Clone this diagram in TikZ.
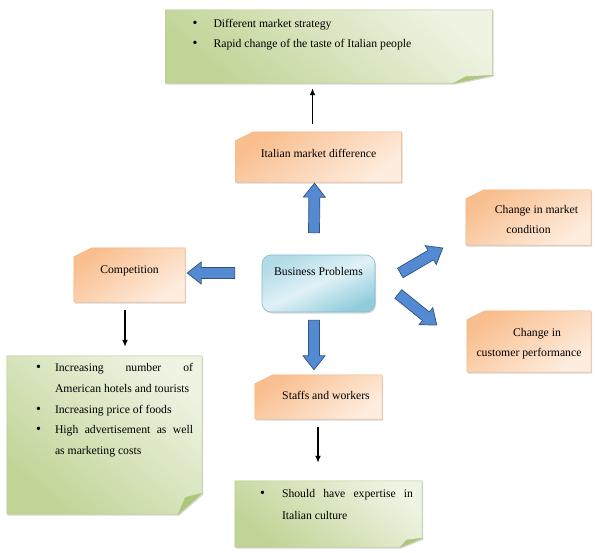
\documentclass[tikz,border=0pt]{standalone}
\usepackage{fontspec}
\setmainfont{Liberation Serif}
\usepackage{enumitem}
\setlist[itemize]{topsep=0pt, partopsep=0pt, itemsep=0pt, parsep=0pt, label={\fontsize{14}{14}\selectfont\textbullet}}
\usetikzlibrary{positioning,arrows.meta,calc,backgrounds,shadows}

\definecolor{orangedark}{RGB}{249,190,142}
\definecolor{orangelight}{RGB}{254,237,223}
\definecolor{orangeedge}{RGB}{240,178,128}
\definecolor{greendark}{RGB}{192,212,150}
\definecolor{greenlight}{RGB}{238,243,226}
\definecolor{greenedge}{RGB}{178,202,132}
\definecolor{greenfold}{RGB}{172,198,122}
\definecolor{bluedark}{RGB}{145,204,220}
\definecolor{bluelight}{RGB}{224,241,246}
\definecolor{blueedge}{RGB}{128,190,208}
\definecolor{arrowfill}{RGB}{84,138,210}
\definecolor{arrowedge}{RGB}{50,82,126}

\tikzset{
    on grid,
    every node/.style={font=\fontsize{11.7}{20}\selectfont},
    cutbox/.style = {
        shape=rectangle,
        inner sep=0pt,
        align=center
    },
    notebox/.style = {
        shape=rectangle,
        inner sep=0pt
    },
    probbox/.style = {
        draw=blueedge,
        shape=rectangle,
        rounded corners=9pt,
        line width=0.6pt,
        top color=bluedark!60!bluelight,
        bottom color=bluedark,
        middle color=bluelight,
        shading angle=25,
        drop shadow={shadow xshift=1pt,shadow yshift=-1.5pt,opacity=0.3}
    },
    orangefill/.style = {
        draw=orangeedge,
        line width=0.5pt,
        top color=orangedark,
        bottom color=orangelight,
        shading angle=35,
        drop shadow={shadow xshift=1pt,shadow yshift=-1.5pt,opacity=0.3}
    },
    greenfill/.style = {
        draw=greenedge,
        line width=0.5pt,
        top color=greenlight,
        bottom color=greendark,
        shading angle=-40,
        drop shadow={shadow xshift=1pt,shadow yshift=-1.5pt,opacity=0.3}
    },
    foldfill/.style = {
        draw=greenedge,
        fill=greenfold,
        line width=0.5pt
    },
    blockarrow/.style = {
        draw=arrowedge,
        fill=arrowfill,
        line width=0.7pt,
        to path={
            let \p1=(\tikztostart), \p2=(\tikztotarget),
                \p3=($(\p2)!14pt!(\p1)$)
            in ($(\p1)!5.5pt!90:(\p2)$) -- ($(\p3)!5.5pt!90:(\p2)$)
            -- ($(\p3)!11pt!90:(\p2)$) -- (\p2)
            -- ($(\p3)!11pt!-90:(\p2)$) -- ($(\p3)!5.5pt!-90:(\p2)$)
            -- ($(\p1)!5.5pt!-90:(\p2)$) -- cycle
        }
    },
    >={Latex[length=7pt,width=6pt]},
}

\begin{document}
\begin{tikzpicture}[x=1pt,y=-1pt]
    \useasboundingbox (0,0) rectangle (596,553);

    \node[probbox, minimum width=113pt, minimum height=57pt, text depth=23.6pt] (bp) at (318.5,283.5) {Business Problems};

    \node[cutbox, minimum width=166pt, minimum height=50pt, text depth=6.6pt, above=126.5pt of bp] (italy) {Italian market difference};
    \node[cutbox, minimum width=111pt, minimum height=54pt, text depth=10.6pt, above left=8.5pt and 189pt of bp] (comp) {Competition};
    \node[cutbox, minimum width=127pt, minimum height=44pt, text depth=2.6pt, below=113.5pt of bp] (staff) {\hspace*{15pt}Staffs and workers};
    \node[cutbox, minimum width=125pt, minimum height=55pt, text height=32pt, above right=66pt and 210pt of bp] (mkt) {\hspace*{16pt}Change in market\\condition};
    \node[cutbox, minimum width=124pt, minimum height=61pt, text height=32pt, below right=58pt and 210.5pt of bp] (cust) {\hspace*{16pt}Change in\\customer performance};

    \node[notebox, above=110.5pt of italy, xshift=10.5pt] (topnote) {\parbox[t][73pt][t]{327pt}{\fontsize{11.7}{20}\selectfont
        \hrule height 0pt width \hsize\vskip 9.4pt
        \begin{itemize}[leftmargin=48pt, labelsep=16pt]
            \item Different market strategy
            \item Rapid change of the taste of Italian people
        \end{itemize}}};
    \node[notebox, below left=160pt and 25pt of comp] (compnote) {\parbox[t][158pt][t]{195pt}{\fontsize{11.7}{20.8}\selectfont
        \hrule height 0pt width \hsize\vskip 7.2pt
        \begin{itemize}[leftmargin=48pt, rightmargin=9pt, labelsep=14pt]
            \item Increasing number of\linebreak American hotels and tourists
            \item Increasing price of foods
            \item High advertisement as well\linebreak as marketing costs
        \end{itemize}}};
    \node[notebox, below right=117pt and 10pt of staff] (staffnote) {\parbox[t][66pt][t]{187pt}{\fontsize{11.7}{22}\selectfont
        \hrule height 0pt width \hsize\vskip 8.8pt
        \begin{itemize}[leftmargin=47pt, rightmargin=9pt, labelsep=17pt]
            \item Should have expertise in\linebreak Italian culture
        \end{itemize}}};

    % box shapes behind the texts
    \begin{scope}[on background layer]
        \foreach \bx in {italy,comp,staff,mkt,cust}
            \path[orangefill] ([yshift=-9pt]\bx.north west) -- ([xshift=18pt]\bx.north west) -- (\bx.north east)
                -- (\bx.south east) -- (\bx.south west) -- cycle;
        \foreach \nb/\fx/\fy in {topnote/39/8,compnote/24/21,staffnote/22/9} {
            \path[greenfill] (\nb.north west) -- (\nb.north east) -- ([yshift=\fy pt]\nb.south east)
                -- ([xshift=-\fx pt]\nb.south east) -- (\nb.south west) -- cycle;
            \path[foldfill] ([xshift=-\fx pt]\nb.south east) -- ([xshift=-0.7*\fx pt,yshift=0.8*\fy pt]\nb.south east)
                -- ([yshift=\fy pt]\nb.south east) -- cycle;
        }
    \end{scope}

    \draw[blockarrow] ([xshift=-4.5pt,yshift=22pt]bp.north) to ([xshift=-4pt,yshift=-1pt]italy.south);
    \draw[blockarrow] ([xshift=-27pt,yshift=10.5pt]bp.west) to ([xshift=2pt,yshift=2pt]comp.east);
    \draw[blockarrow] ([xshift=-4.5pt,yshift=-8pt]bp.south) to ([xshift=-4.5pt,yshift=5pt]staff.north);
    \draw[blockarrow] ([xshift=25pt,yshift=10.5pt]bp.east) to ([xshift=-23pt,yshift=-30.5pt]mkt.west);
    \draw[blockarrow] ([xshift=23pt,yshift=-10.5pt]bp.east) to ([xshift=-30pt,yshift=16.5pt]cust.west);

    \path[draw, line width=1.5pt, ->] ([xshift=-6pt,yshift=8pt]italy.north) -- ([xshift=-16.5pt,yshift=-5pt]topnote.south);
    \path[draw, line width=1.5pt, ->] ([xshift=-4.5pt,yshift=-8pt]comp.south) -- ([xshift=20.5pt,yshift=9pt]compnote.north);
    \path[draw, line width=1.5pt, ->] ([xshift=-0.5pt,yshift=-8pt]staff.south) -- ([xshift=-10.5pt,yshift=18pt]staffnote.north);
\end{tikzpicture}
\end{document}
